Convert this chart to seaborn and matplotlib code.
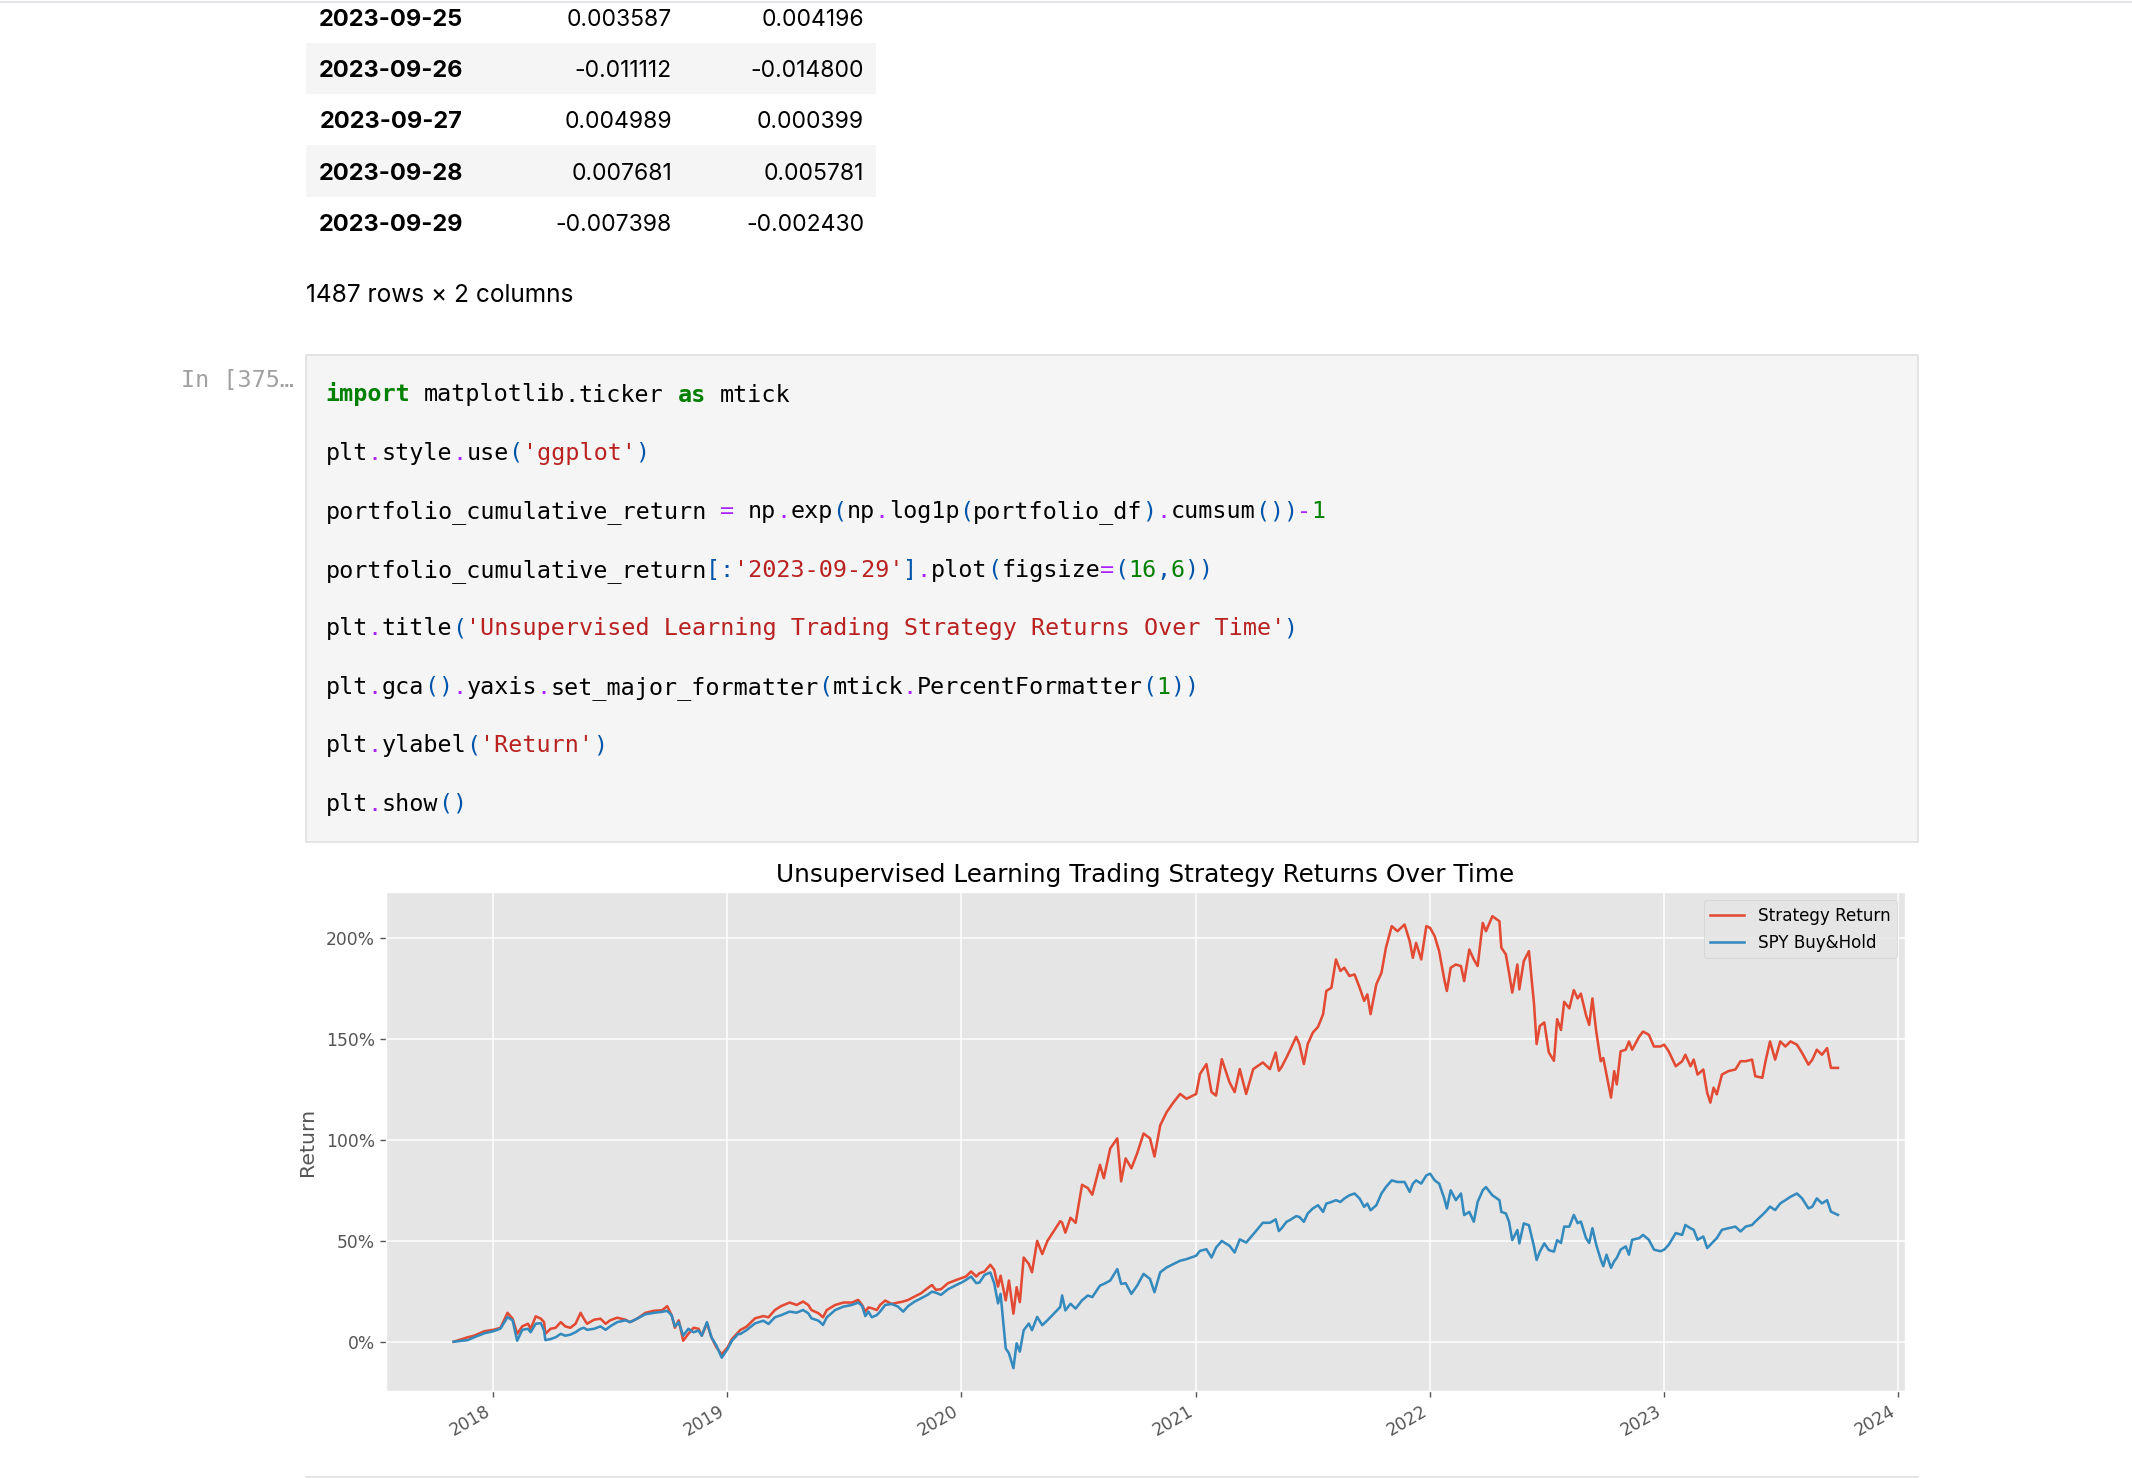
import re
import matplotlib
matplotlib.use("Agg")
import matplotlib.pyplot as plt
import matplotlib.dates as mdates
import matplotlib.ticker as mtick
from matplotlib.patches import Rectangle
from matplotlib.lines import Line2D
import pandas as pd
import seaborn as sns

# cumulative returns (%)
dates = [
    "2017-10-31", "2017-11-22", "2017-12-02", "2017-12-18", "2018-01-01", "2018-01-12",
    "2018-01-23", "2018-01-31", "2018-02-07", "2018-02-15", "2018-02-24", "2018-02-28",
    "2018-03-08", "2018-03-16", "2018-03-21", "2018-03-23", "2018-03-31", "2018-04-08",
    "2018-04-16", "2018-04-23", "2018-05-01", "2018-05-09", "2018-05-17", "2018-05-22",
    "2018-05-27", "2018-06-07", "2018-06-17", "2018-06-25", "2018-07-02", "2018-07-13",
    "2018-07-26", "2018-08-02", "2018-08-13", "2018-08-26", "2018-09-08", "2018-09-21",
    "2018-09-29", "2018-10-06", "2018-10-11", "2018-10-17", "2018-10-24", "2018-11-01",
    "2018-11-09", "2018-11-17", "2018-11-22", "2018-11-30", "2018-12-07", "2018-12-15",
    "2018-12-23", "2019-01-01", "2019-01-08", "2019-01-18",
    "2019-01-21", "2019-01-31", "2019-02-13", "2019-02-26", "2019-03-06", "2019-03-16",
    "2019-03-26", "2019-04-08", "2019-04-19", "2019-04-29", "2019-05-07", "2019-05-12",
    "2019-05-23", "2019-05-30", "2019-06-05", "2019-06-18", "2019-07-01", "2019-07-14",
    "2019-07-24", "2019-07-30", "2019-08-04", "2019-08-09", "2019-08-14", "2019-08-22",
    "2019-08-27", "2019-09-04", "2019-09-14", "2019-09-24", "2019-10-02", "2019-10-10",
    "2019-10-20", "2019-10-30", "2019-11-09", "2019-11-16", "2019-11-22", "2019-11-30",
    "2019-12-11", "2019-12-24", "2020-01-01", "2020-01-08", "2020-01-16", "2020-01-24",
    "2020-01-29", "2020-02-06", "2020-02-15", "2020-02-21", "2020-02-27",
    "2020-03-02", "2020-03-10", "2020-03-15", "2020-03-22", "2020-03-27", "2020-04-01",
    "2020-04-07", "2020-04-15", "2020-04-20", "2020-04-28", "2020-05-06", "2020-05-14",
    "2020-05-24", "2020-06-03", "2020-06-06", "2020-06-11", "2020-06-19", "2020-06-27",
    "2020-07-07", "2020-07-16", "2020-07-23", "2020-08-04", "2020-08-10", "2020-08-20",
    "2020-08-31", "2020-09-06", "2020-09-13", "2020-09-22", "2020-10-01", "2020-10-11",
    "2020-10-21", "2020-10-28", "2020-11-06", "2020-11-16", "2020-11-27", "2020-12-07",
    "2020-12-17", "2021-01-01", "2021-01-07", "2021-01-17", "2021-01-25", "2021-02-01",
    "2021-02-10", "2021-02-22", "2021-03-02", "2021-03-10", "2021-03-20", "2021-03-31",
    "2021-04-15", "2021-04-26", "2021-05-05", "2021-05-10",
    "2021-05-14", "2021-05-22", "2021-05-27", "2021-06-06", "2021-06-11", "2021-06-18",
    "2021-06-24", "2021-07-02", "2021-07-10", "2021-07-18", "2021-07-23", "2021-07-31",
    "2021-08-07", "2021-08-14", "2021-08-20", "2021-08-28", "2021-09-05", "2021-09-13",
    "2021-09-20", "2021-09-25", "2021-09-30", "2021-10-09", "2021-10-17", "2021-10-24",
    "2021-11-02", "2021-11-11", "2021-11-22", "2021-11-30", "2021-12-05", "2021-12-10",
    "2021-12-18", "2021-12-26", "2022-01-01", "2022-01-08", "2022-01-15", "2022-01-23",
    "2022-01-27", "2022-02-02", "2022-02-10", "2022-02-18", "2022-02-23", "2022-03-03",
    "2022-03-10", "2022-03-16", "2022-03-24", "2022-03-29", "2022-04-08", "2022-04-19",
    "2022-04-22", "2022-04-29", "2022-05-04", "2022-05-09", "2022-05-17", "2022-05-20",
    "2022-05-27", "2022-06-04", "2022-06-12", "2022-06-16", "2022-06-21", "2022-06-28",
    "2022-07-05", "2022-07-13", "2022-07-18",
    "2022-07-24", "2022-07-29", "2022-08-06", "2022-08-13", "2022-08-19", "2022-08-24",
    "2022-09-01", "2022-09-06", "2022-09-11", "2022-09-17", "2022-09-24", "2022-09-28",
    "2022-10-03", "2022-10-10", "2022-10-15", "2022-10-19", "2022-10-25", "2022-11-02",
    "2022-11-07", "2022-11-12", "2022-11-23", "2022-11-29", "2022-12-08", "2022-12-16",
    "2022-12-26", "2023-01-01", "2023-01-08", "2023-01-19", "2023-01-29", "2023-02-03",
    "2023-02-11", "2023-02-16", "2023-02-22", "2023-03-03", "2023-03-09", "2023-03-14",
    "2023-03-19", "2023-03-24", "2023-04-01", "2023-04-11", "2023-04-22", "2023-04-30",
    "2023-05-08", "2023-05-18", "2023-05-23", "2023-06-03", "2023-06-08", "2023-06-15",
    "2023-06-23", "2023-07-01", "2023-07-09", "2023-07-17", "2023-07-27", "2023-08-04",
    "2023-08-14", "2023-08-20", "2023-08-27", "2023-09-04", "2023-09-12", "2023-09-18",
    "2023-09-29",
]

strategy_return = [
    0.0, 2.2, 3.0, 5.2, 5.9, 6.9,
    14.3, 11.4, 3.9, 7.6, 8.9, 6.4,
    12.6, 11.4, 9.7, 3.9, 6.4, 6.9,
    9.7, 7.6, 6.9, 8.9, 14.3, 11.4,
    8.9, 10.9, 11.4, 8.9, 10.6, 11.9,
    10.9, 9.7, 11.4, 14.3, 15.3, 15.6,
    17.6, 13.1, 6.9, 10.6, 0.5, 3.9,
    6.9, 6.4, 3.0, 9.2, 2.2, -2.9,
    -6.2, -2.9, 1.3, 4.7,
    5.8, 7.5, 11.6, 12.7, 12.1, 15.7,
    17.7, 19.4, 18.2, 19.9, 18.2, 15.7,
    14.1, 12.1, 15.7, 18.2, 19.4, 19.4,
    20.7, 18.2, 14.9, 17.0, 16.6, 15.7,
    18.2, 20.4, 18.7, 19.4, 19.9, 20.7,
    22.4, 24.0, 26.5, 28.1, 25.7, 26.0,
    29.0, 30.6, 31.5, 32.3, 34.8, 32.3,
    33.9, 34.8, 38.1, 35.6, 27.3,
    32.7, 20.5, 30.3, 13.9, 27.0, 19.6,
    41.7, 38.5, 34.4, 49.9, 43.4, 49.9,
    54.8, 59.7, 59.0, 54.0, 61.4, 58.9,
    77.7, 76.1, 72.8, 87.6, 81.0, 95.7,
    100.7, 79.4, 90.8, 85.9, 93.3, 103.1,
    100.7, 91.7, 107.2, 113.7, 118.7, 122.7,
    120.3, 122.7, 132.6, 137.5, 123.6, 121.9,
    139.9, 128.5, 123.6, 135.0, 122.7, 135.0,
    138.3, 135.0, 143.2, 134.2,
    135.9, 140.8, 144.1, 151.0, 147.4, 137.5,
    147.4, 153.1, 155.9, 162.2, 173.7, 175.3,
    189.3, 183.6, 185.2, 181.1, 181.9, 175.3,
    168.8, 172.0, 162.2, 177.0, 182.7, 195.1,
    205.8, 203.3, 206.6, 198.4, 190.1, 197.5,
    189.3, 205.8, 204.9, 200.8, 193.4, 179.4,
    173.7, 185.2, 186.8, 186.0, 178.6, 194.2,
    189.3, 186.0, 207.4, 203.3, 210.7, 208.2,
    195.1, 191.8, 182.7, 172.9, 186.8, 174.5,
    188.5, 193.4, 167.1, 147.4, 156.4, 158.1,
    143.3, 139.1, 159.7,
    154.4, 168.3, 165.1, 174.1, 170.0, 172.4,
    161.8, 156.9, 170.0, 153.6, 138.9, 140.5,
    132.3, 120.9, 134.0, 127.4, 143.8, 144.6,
    148.7, 144.6, 151.1, 153.6, 152.0, 146.2,
    146.2, 147.1, 143.8, 136.4, 138.9, 142.1,
    136.4, 139.7, 132.3, 134.8, 123.3, 118.4,
    125.8, 122.5, 132.3, 134.0, 134.8, 138.9,
    138.9, 139.7, 131.5, 130.7, 138.9, 148.7,
    139.7, 148.7, 146.2, 148.7, 147.1, 143.0,
    137.2, 139.7, 144.6, 142.1, 145.4, 135.6,
    135.6,
]

spy_buy_hold = [
    0.0, 0.8, 2.2, 4.2, 5.2, 6.5,
    12.2, 10.6, 0.5, 5.9, 6.4, 4.7,
    8.9, 9.2, 5.5, 0.8, 1.3, 2.2,
    3.9, 3.0, 3.5, 4.7, 6.4, 6.9,
    5.9, 6.4, 7.6, 5.9, 7.6, 9.7,
    10.6, 9.7, 11.4, 13.6, 14.3, 14.8,
    15.3, 13.1, 7.6, 9.7, 3.0, 6.4,
    4.7, 5.5, 3.0, 9.7, 2.2, -2.0,
    -7.9, -3.7, 0.5, 3.9,
    3.8, 5.8, 9.1, 10.4, 8.8, 12.1,
    13.2, 14.9, 14.4, 15.7, 14.1, 11.6,
    10.4, 8.3, 12.1, 15.7, 17.4, 18.2,
    19.4, 17.7, 12.7, 14.9, 12.1, 13.2,
    14.9, 18.2, 18.7, 17.4, 14.9, 17.7,
    19.9, 21.5, 23.2, 24.8, 24.3, 23.2,
    26.0, 28.1, 29.3, 30.6, 32.3, 29.0,
    29.3, 33.1, 34.3, 29.0, 19.0,
    23.7, -3.3, -5.7, -13.1, -0.8, -4.9,
    5.7, 9.0, 5.7, 12.3, 8.2, 10.6,
    13.9, 17.2, 22.9, 15.5, 18.8, 16.4,
    20.5, 22.9, 22.1, 27.8, 28.6, 30.3,
    36.0, 28.6, 29.0, 23.7, 27.8, 33.6,
    31.1, 24.5, 34.4, 36.8, 38.5, 40.1,
    40.9, 42.6, 45.0, 45.8, 41.7, 46.6,
    49.9, 47.5, 44.2, 50.7, 49.1, 53.2,
    58.9, 58.9, 60.6, 54.8,
    56.1, 59.4, 60.2, 62.2, 61.8, 59.4,
    63.5, 66.0, 67.6, 64.3, 68.4, 69.2,
    70.1, 69.2, 70.9, 72.5, 73.4, 70.9,
    66.8, 68.4, 65.1, 67.6, 73.4, 76.6,
    79.9, 79.1, 79.1, 74.2, 78.3, 79.9,
    78.3, 82.4, 83.2, 79.9, 78.3, 70.9,
    66.0, 75.0, 70.1, 73.4, 62.7, 64.3,
    59.4, 69.2, 75.0, 76.6, 72.5, 70.1,
    64.3, 63.5, 59.4, 50.3, 55.3, 48.7,
    58.6, 57.7, 47.0, 40.5, 44.6, 48.7,
    45.4, 44.6, 50.3,
    48.9, 57.0, 57.0, 62.8, 58.7, 59.5,
    51.3, 48.9, 56.2, 48.0, 40.7, 37.4,
    43.1, 36.6, 39.9, 41.5, 45.6, 47.2,
    43.1, 50.5, 51.3, 52.9, 50.5, 45.6,
    44.8, 45.6, 48.0, 53.8, 52.9, 57.8,
    56.2, 55.4, 50.5, 52.1, 46.4, 48.0,
    49.7, 51.3, 55.4, 56.2, 57.0, 54.6,
    57.0, 57.8, 59.5, 62.8, 64.4, 66.9,
    65.2, 68.5, 70.1, 71.8, 73.4, 71.0,
    66.0, 66.9, 71.0, 68.5, 70.1, 64.4,
    62.8,
]

# tail of the dataframe printed above the cell
table_index = ["2023-09-25", "2023-09-26", "2023-09-27", "2023-09-28", "2023-09-29"]
table_strategy = ["0.003587", "-0.011112", "0.004989", "0.007681", "-0.007398"]
table_spy = ["0.004196", "-0.014800", "0.000399", "0.005781", "-0.002430"]
table_footer = "1487 rows \u00d7 2 columns"

prompt = "In [375\u2026"
code_lines = [
    "import matplotlib.ticker as mtick",
    "plt.style.use('ggplot')",
    "portfolio_cumulative_return = np.exp(np.log1p(portfolio_df).cumsum())-1",
    "portfolio_cumulative_return[:'2023-09-29'].plot(figsize=(16,6))",
    "plt.title('Unsupervised Learning Trading Strategy Returns Over Time')",
    "plt.gca().yaxis.set_major_formatter(mtick.PercentFormatter(1))",
    "plt.ylabel('Return')",
    "plt.show()",
]

W, H = 2132, 1478


def fx(px):
    return px / W


def fy(py):
    return 1 - py / H


plt.style.use("ggplot")
fig = plt.figure(figsize=(W / 100, H / 100), dpi=100)
fig.patch.set_facecolor("white")

# notebook chrome
fig.add_artist(Line2D([0, 1], [fy(1.5), fy(1.5)], color="#dadde0", lw=1.2))
fig.add_artist(Line2D([fx(306), fx(1918)], [fy(1476.5), fy(1476.5)], color="#e0e0e0", lw=1.2))

# --- output table ---
row_base = 26
row_step = 51.25
for i, (d, s, p) in enumerate(zip(table_index, table_strategy, table_spy)):
    base = row_base + i * row_step
    if i % 2 == 1:
        fig.add_artist(Rectangle((fx(306), fy(base + 17)), fx(876) - fx(306), row_step / H,
                                 facecolor="#f5f5f5", edgecolor="none", zorder=0))
    fig.text(fx(463), fy(base), d, ha="right", va="baseline", fontsize=17,
             fontweight="bold", family="Inter", color="#000000")
    fig.text(fx(672), fy(base), s, ha="right", va="baseline", fontsize=16.5,
             family="Inter", color="#000000")
    fig.text(fx(864), fy(base), p, ha="right", va="baseline", fontsize=16.5,
             family="Inter", color="#000000")
fig.text(fx(306), fy(301.5), table_footer, ha="left", va="baseline", fontsize=17.6,
         family="Inter", color="#000000")

# --- code cell ---
fig.add_artist(Rectangle((fx(306), fy(842)), fx(1918) - fx(306), (842 - 355) / H,
                         facecolor="#f5f5f5", edgecolor="#e0e0e0", lw=1.2, zorder=0))
mono = "DejaVu Sans Mono"
char_w = 14.08
mono_size = char_w / 0.602 * 72 / 100
fig.text(fx(294), fy(387), prompt, ha="right", va="baseline", fontsize=mono_size,
         family=mono, color="#a0a0a0")

TOKEN_RE = re.compile(r"(?P<str>'[^']*')|(?P<name>[A-Za-z_]\w*)|(?P<num>\d+)"
                      r"|(?P<op>[=\-+*/.])|(?P<punc>[()\[\]:,])|(?P<ws>\s+)")
KEYWORDS = {"import", "as"}
CODE_COLORS = {"str": "#ba2121", "num": "#008000", "kw": "#008000", "op": "#aa22ff",
               "punc": "#0055aa", "name": "#000000"}

for li, line in enumerate(code_lines):
    base = 401.5 + li * 58.48
    for m in TOKEN_RE.finditer(line):
        kind = m.lastgroup
        tok = m.group()
        if kind == "ws":
            continue
        if kind == "name" and tok in KEYWORDS:
            kind = "kw"
        if kind == "op" and tok == "." and line.startswith("import"):
            kind = "name"
        fig.text(fx(325.5 + m.start() * char_w), fy(base), tok, ha="left", va="baseline",
                 fontsize=mono_size, family=mono, color=CODE_COLORS[kind],
                 fontweight="bold" if kind == "kw" else "normal")

# --- the chart ---
ax = fig.add_axes([fx(385.7), fy(1391), (1905.3 - 385.7) / W, (1391 - 892) / H])

df = pd.DataFrame({
    "Date": pd.to_datetime(dates),
    "Strategy Return": strategy_return,
    "SPY Buy&Hold": spy_buy_hold,
})
long_df = df.melt(id_vars="Date", var_name="series", value_name="ret")

sns.lineplot(data=long_df, x="Date", y="ret", hue="series", estimator=None,
             palette={"Strategy Return": "#E24A33", "SPY Buy&Hold": "#348ABD"},
             linewidth=1.84, ax=ax)

ax.set_xlim(pd.Timestamp("2017-07-17"), pd.Timestamp("2024-01-12"))
ax.set_ylim(-24.4, 222.7)
ax.yaxis.set_major_locator(mtick.MultipleLocator(50))
ax.yaxis.set_major_formatter(mtick.PercentFormatter(100))
ax.xaxis.set_major_locator(mdates.YearLocator())
ax.xaxis.set_major_formatter(mdates.DateFormatter("%Y"))
ax.grid(True, color="white", linewidth=1.1)
ax.tick_params(axis="both", labelsize=12.3, colors="#555555", length=4.3, width=1.0)
for lbl in ax.get_xticklabels():
    lbl.set_rotation(30)
    lbl.set_ha("right")

ax.set_title("Unsupervised Learning Trading Strategy Returns Over Time", fontsize=17.8,
             color="black", pad=7)
ax.set_xlabel("")
ax.set_ylabel("Return", fontsize=14.7, color="#555555", labelpad=6)
ax.legend(loc="upper right", fontsize=12.1)

fig.savefig("out.png", dpi=100, facecolor="white")
